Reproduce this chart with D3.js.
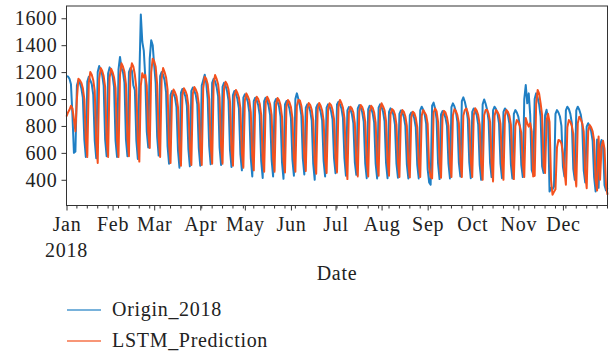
<!DOCTYPE html>
<html>
<head>
<meta charset="utf-8">
<script src="https://cdnjs.cloudflare.com/ajax/libs/d3/7.8.5/d3.min.js"></script>
<style>
  body { margin: 0; background: #fff; }
  svg text { font-family: "Liberation Serif", "Times New Roman", serif; fill: #222; letter-spacing: 0.7px; }
</style>
</head>
<body>
<div id="chart"></div>
<script>
// daily values for 2018, one row per week (Mon..Sun)
const origin2018 = [
  1170,1168,1150,1110,880,600,610,
  1100,1140,1120,1080,1010,700,570,
  1130,1165,1140,1110,1030,690,560,
  1200,1245,1220,1180,1100,700,575,
  1190,1235,1210,1170,1090,690,570,
  1220,1313,1230,1200,1120,700,575,
  1200,1230,1210,1100,1066,690,555,
  1150,1627,1424,1360,1160,760,640,
  1300,1437,1400,1250,1120,720,580,
  1170,1200,1180,1140,1050,650,520,
  1030,1060,1040,1010,940,620,490,
  1045,1075,1050,1020,950,630,500,
  1060,1085,1060,1030,960,635,505,
  1100,1140,1180,1120,1000,650,515,
  1120,1150,1130,1090,1020,640,510,
  1090,1120,1100,1060,990,620,495,
  1030,1060,1040,1000,930,590,470,
  1010,1035,1015,980,900,560,425,
  985,1010,990,955,880,540,413,
  985,1010,990,950,880,550,425,
  975,1000,980,945,870,530,407,
  960,985,965,930,860,550,430,
  1000,1042,1000,950,880,560,440,
  935,960,945,910,840,520,400,
  935,960,940,905,840,540,425,
  935,960,945,910,850,560,449,
  960,980,960,930,860,560,430,
  915,940,925,890,820,530,437,
  930,955,935,900,830,520,412,
  925,950,930,895,825,520,410,
  935,960,940,905,835,525,412,
  905,931,915,880,810,520,415,
  890,915,900,865,800,515,410,
  880,900,890,855,790,510,410,
  915,943,920,885,815,480,380,
  363,950,973,930,850,520,405,
  885,910,895,860,800,520,410,
  940,968,945,905,830,525,425,
  985,1012,980,930,850,530,412,
  905,930,915,880,810,510,400,
  960,997,965,920,840,525,420,
  915,943,925,890,820,520,412,
  905,930,915,880,815,515,410,
  890,918,900,869,800,510,420,
  1000,1104,968,1042,880,474,440,
  1000,1042,1010,960,870,500,450,
  880,920,850,313,340,330,350,
  890,918,900,870,800,500,425,
  915,943,925,890,820,480,400,
  915,943,920,885,810,470,380,
  795,820,800,760,690,420,313,
  700,340,660,696,650,360,320,
  340
];

const lstmPrediction = [
  870,900,920,950,930,850,760,
  1000,1150,1140,1120,1080,1000,700,
  570,1120,1200,1180,1140,1060,690,
  525,1150,1230,1210,1170,1090,700,
  570,1160,1225,1200,1160,1080,700,
  570,1180,1265,1240,1200,1110,710,
  575,1200,1265,1240,1180,1080,690,
  535,1100,1192,1160,1180,1100,760,
  637,1200,1300,1280,1240,1110,720,
  570,1150,1230,1200,1160,1070,660,
  525,1020,1070,1050,1020,940,630,
  505,1030,1080,1060,1030,950,640,
  510,1040,1090,1070,1040,960,645,
  510,1080,1165,1150,1110,1000,655,
  520,1120,1178,1150,1110,1010,650,
  520,1080,1128,1110,1070,980,630,
  505,1020,1067,1045,1010,930,600,
  490,990,1042,1020,990,900,575,
  470,970,1017,1000,965,880,555,
  460,970,1017,995,960,880,560,
  460,960,1007,990,955,870,545,
  455,945,993,975,940,860,560,
  460,950,993,990,950,870,570,
  465,925,970,955,920,840,535,
  445,925,970,950,915,840,550,
  450,925,968,955,920,850,565,
  455,945,993,970,935,860,570,
  405,900,943,930,900,820,545,
  425,910,955,940,905,830,535,
  425,905,950,935,900,825,530,
  430,920,968,945,915,835,535,
  430,885,925,915,885,810,530,
  420,875,918,905,870,800,525,
  418,865,906,895,860,790,520,
  420,875,918,900,880,815,495,
  420,410,900,930,910,830,530,
  415,870,912,900,865,800,530,
  420,880,925,910,880,820,535,
  420,875,918,930,900,840,540,
  420,880,931,915,880,810,520,
  400,880,918,920,890,830,530,
  388,875,918,905,880,815,525,
  400,875,918,905,875,810,520,
  405,800,844,830,800,750,515,
  420,859,820,795,820,760,425,
  430,960,1067,1040,968,880,500,
  450,840,890,830,400,289,310,
  330,640,696,690,670,600,470,
  363,790,844,830,800,740,460,
  351,820,869,850,820,760,450,
  338,760,807,790,760,690,400,
  320,721,400,647,690,630,360,
  289
];

const monthLabels = ["Jan","Feb","Mar","Apr","May","Jun","Jul","Aug","Sep","Oct","Nov","Dec"];
const yearLabel = "2018";
const yTicks = [400, 600, 800, 1000, 1200, 1400, 1600];
const seriesNames = ["Origin_2018", "LSTM_Prediction"];
const seriesColors = ["#1f7fc4", "#f4511e"];

const width = 612, height = 355;
const plotLeft = 66.5, plotRight = 607.5, plotTop = 6, plotBottom = 205.5;

const start = new Date(2018, 0, 1);
const end = new Date(2018, 11, 31);
const days = d3.timeDay.range(start, new Date(2019, 0, 1));

const x = d3.scaleTime().domain([start, end]).range([plotLeft, plotRight]);
const y = d3.scaleLinear().domain([209, 1691]).range([plotBottom, plotTop]);

const svg = d3.select("#chart").append("svg")
  .attr("width", width)
  .attr("height", height);

// lines
const line = d3.line()
  .x((d, i) => x(days[i]))
  .y(d => y(d));

[origin2018, lstmPrediction].forEach((s, k) => {
  svg.append("path")
    .datum(s)
    .attr("fill", "none")
    .attr("stroke", seriesColors[k])
    .attr("stroke-width", 2)
    .attr("stroke-linejoin", "round")
    .attr("d", line);
});

// frame
svg.append("rect")
  .attr("x", plotLeft).attr("y", plotTop)
  .attr("width", plotRight - plotLeft).attr("height", plotBottom - plotTop)
  .attr("fill", "none").attr("stroke", "#333").attr("stroke-width", 1);

// y axis
const yAxis = d3.axisLeft(y).tickValues(yTicks).tickSize(5).tickPadding(4)
  .tickFormat(d3.format("d"));
const gy = svg.append("g").attr("transform", `translate(${plotLeft},0)`).call(yAxis);
gy.select(".domain").remove();
gy.selectAll("line").attr("stroke", "#333");
gy.selectAll("text").attr("font-size", 20).attr("font-family", "Liberation Serif").attr("fill", "#222");

// x axis: months as major ticks, mondays as minor ticks
const months = d3.timeMonth.range(start, new Date(2019, 0, 1));
const xAxis = d3.axisBottom(x).tickValues(months).tickSize(5).tickPadding(6)
  .tickFormat((d, i) => monthLabels[i]);
const gx = svg.append("g").attr("transform", `translate(0,${plotBottom})`).call(xAxis);
gx.select(".domain").remove();
gx.selectAll("line").attr("stroke", "#333");
gx.selectAll("text").attr("font-size", 20).attr("font-family", "Liberation Serif").attr("fill", "#222");

const mondays = d3.timeMonday.range(start, new Date(2019, 0, 1))
  .filter(d => d.getDate() !== 1);
svg.append("g").selectAll("line").data(mondays).enter().append("line")
  .attr("x1", d => x(d)).attr("x2", d => x(d))
  .attr("y1", plotBottom).attr("y2", plotBottom + 3)
  .attr("stroke", "#333");

// year under January
svg.append("text")
  .attr("x", x(start)).attr("y", 257)
  .attr("text-anchor", "middle").attr("font-size", 20)
  .text(yearLabel);

// axis title
svg.append("text")
  .attr("x", (plotLeft + plotRight) / 2).attr("y", 280)
  .attr("text-anchor", "middle").attr("font-size", 20)
  .text("Date");

// legend
const legend = svg.append("g");
seriesNames.forEach((name, k) => {
  const ly = 310 + k * 31;
  legend.append("line")
    .attr("x1", 67).attr("x2", 101).attr("y1", ly).attr("y2", ly)
    .attr("stroke", seriesColors[k]).attr("stroke-width", 1.5).attr("opacity", 0.8);
  legend.append("text")
    .attr("x", 112).attr("y", ly + 6)
    .attr("font-size", 20)
    .text(name);
});
</script>
</body>
</html>
